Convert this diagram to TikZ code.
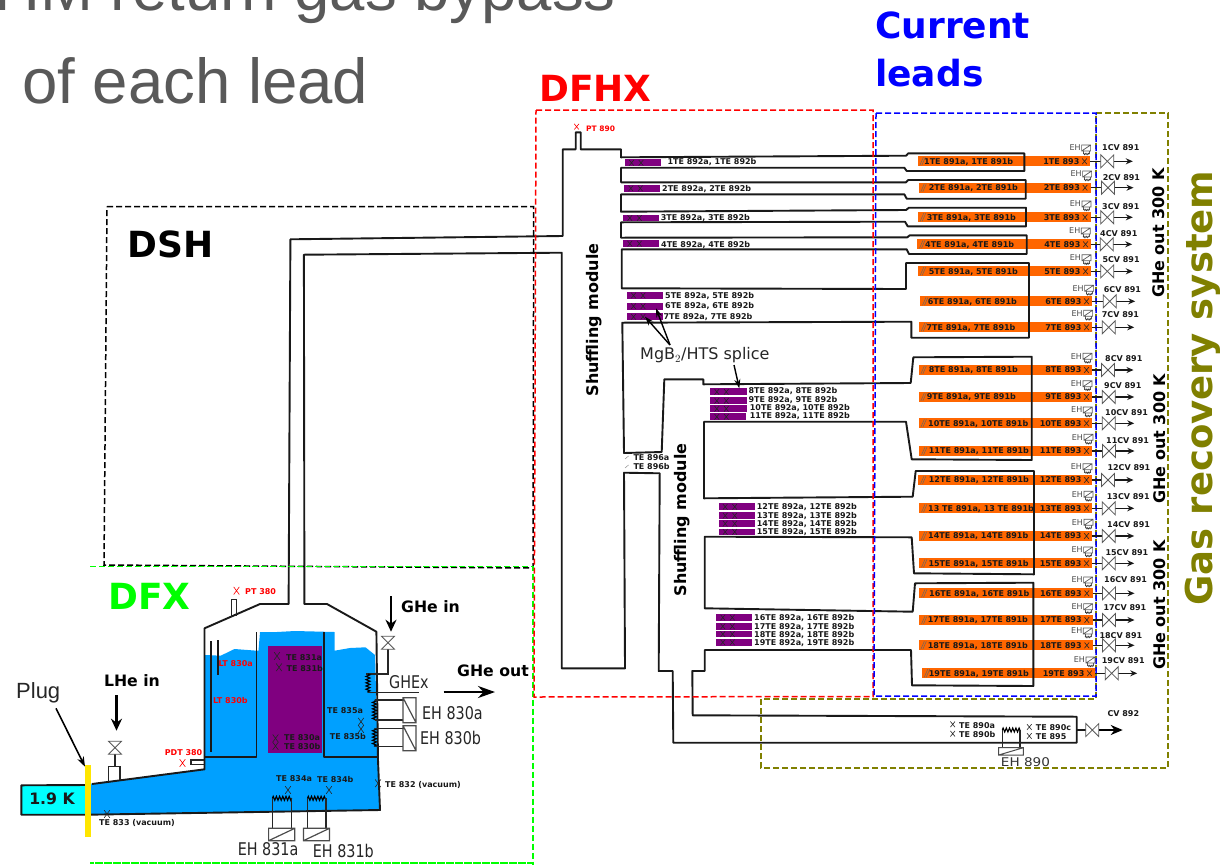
\documentclass[tikz,border=0pt]{standalone}
\usepackage{fontspec}
\setmainfont{DejaVu Sans}
\newfontfamily\arialf{Liberation Sans}
\usetikzlibrary{arrows.meta,shapes.misc,decorations.pathmorphing}
\definecolor{cred}{RGB}{255,0,0}
\definecolor{cgreen}{RGB}{0,255,0}
\definecolor{cblue}{RGB}{0,0,255}
\definecolor{colive}{RGB}{128,128,0}
\definecolor{cliquid}{RGB}{0,160,255}
\definecolor{ccold}{RGB}{0,255,255}
\definecolor{cpurple}{RGB}{128,0,128}
\definecolor{corange}{RGB}{255,102,0}
\definecolor{cgreytext}{RGB}{89,89,89}
\definecolor{cplug}{RGB}{255,230,0}
\tikzset{
  zone/.style={dash pattern=on 6pt off 3pt,line width=1.5pt},
  pipe/.style={line width=1.9pt,line join=round,draw=black!90},
  lab/.style={anchor=west,inner sep=0pt,font=\bfseries\fontsize{8}{8}\selectfont,text height=5.8pt,text depth=0pt,text=black!90},
  redlab/.style={lab,text=cred},
  title/.style={inner sep=0pt,font=\bfseries\fontsize{36}{36}\selectfont},
  bold16/.style={inner sep=0pt,font=\bfseries\fontsize{15.7}{16}\selectfont},
  thin18/.style={inner sep=0pt,anchor=west,font=\fontsize{17.5}{18}\selectfont,xscale=.82,transform shape,text=black!85},
  xm/.style={cross out,draw=black!85,inner sep=0pt,minimum width=4pt,minimum height=5pt,line width=.6pt},
  xr/.style={xm,draw=cred},
  bigx/.style={xm,minimum width=5pt,minimum height=7pt},
  bigxr/.style={xr,minimum width=5pt,minimum height=7pt},
  valve/.style={draw=black!65,fill=white,line width=.8pt,line join=miter},
  fatarrow/.style={line width=2.2pt,-{Stealth[length=12pt,width=11pt]}},
  coil/.style={decorate,decoration={zigzag,amplitude=2pt,segment length=3.2pt},line width=1.1pt},
  thinline/.style={line width=1.3pt,draw=black!85},
  heater/.style={line width=1.2pt,draw=black!70,fill=white},
}
\newcommand\valveh[2]{\filldraw[valve] (#1-6.5,#2-6.5) -- (#1+6.5,#2+6.5) -- (#1+6.5,#2-6.5) -- (#1-6.5,#2+6.5) -- cycle;}
\newcommand\valvev[2]{\filldraw[valve] (#1-6.5,#2-6.5) -- (#1+6.5,#2-6.5) -- (#1-6.5,#2+6.5) -- (#1+6.5,#2+6.5) -- cycle;}
\begin{document}
\begin{tikzpicture}[x=1pt,y=-1pt]
\useasboundingbox (0,0) rectangle (1228,865);
\fill[white] (0,0) rectangle (1228,865);

% slide text
\node[anchor=base east,inner sep=0pt,text=cgreytext,font=\arialf\fontsize{63.5}{64}\selectfont] (hline1) at (616,10) {HM return gas bypass};
\node[anchor=base west,inner sep=0pt,text=cgreytext,font=\arialf\fontsize{63.5}{64}\selectfont] (hline2) at (22,103) {of each lead};

% liquid
\fill[ccold] (21.3,785.3) rectangle (86,814.7);
\fill[cliquid] (88,784) -- (204.5,769.3) -- (204.5,655) -- (220.7,655.7) -- (234.5,649) -- (256.9,650.7) -- (258.5,650.7) -- (260,632) -- (277,632) -- (295,631) -- (334.5,632) -- (334.5,650.7) -- (350,648) -- (365.5,647.3) -- (375,655) -- (378,760) -- (380,810) -- (88,815) -- cycle;
\fill[cpurple] (268,645.7) rectangle (322,752.7);

% orange bars (behind pipes) and rows
\foreach \n/\y/\lf/\rt/\vx/\cx/\cy/\ex/\ey/\tx in {
 1/161.3/917.3/1090/1107.3/1102/148/1069.3/148/924,
 2/187.7/918.3/1090.5/1108/1102.7/177.3/1070.3/174/928.7,
 3/217.3/917.7/1090.5/1107.3/1102/207/1069.7/204/926.7,
 4/244.3/917/1091/1106.7/1100/233.3/1069/231/925,
 5/271.3/917.7/1091/1107.3/1102.3/259.3/1069.7/257.7/928.7,
 6/301.3/920/1092/1109.7/1103.7/290/1072.3/288.3/927.7,
 7/327.3/918.7/1092/1108.7/1101.7/314.7/1071.3/313.3/926.3,
 8/370/918.3/1092/1108/1105/359/1070.7/356.3/928.7,
 9/397/918.3/1092/1108.7/1104/386/1070.7/383.7/926.7,
 10/423.3/918.3/1092/1108.7/1105/412.3/1071/410/928,
 11/451/919/1092/1109/1106/440.3/1071.7/437.3/928.7,
 12/480/918/1092/1108/1107.3/467.3/1070.7/466.7/928.7,
 13/508.3/919/1092/1108.7/1106.7/497/1071.7/494.3/928,
 14/536/918.7/1092/1108.7/1107/524.3/1071.7/522.3/928,
 15/563.3/919/1092/1108.7/1105.3/552.7/1071.3/550/928.3,
 16/593.3/919/1092.3/1109/1104/580/1071.3/580/929,
 17/620/919/1092.3/1109/1103.3/608/1071.3/606.7/927.7,
 18/645.3/918.3/1092.3/1109/1099.3/635.7/1071/631/927.7,
 19/673.3/921.7/1095/1111.7/1101.7/660.3/1073.7/660/928.7}{
  \pgfmathsetmacro\barw{\rt-\lf}
  \node[fill=corange,draw=none,inner sep=0pt,anchor=west,minimum width=\barw pt,minimum height=9.7pt] (o\n) at (\lf,\y) {};
}

% process piping: one continuous outline
\draw[pipe] (92,784) -- (204.5,769.3) -- (204.5,628.3) -- (260,604) -- (288.6,604) -- (290.4,239.3) -- (562.7,236) -- (562.7,149.3) -- (575.7,149.3) -- (575.7,132.3) -- (580.7,132.3) -- (580.7,149.3) -- (621,149.3) -- (621,157.3) -- (906,155.7) -- (908.3,153.3) -- (1024.3,153.3) -- (1024.3,171) -- (906.7,171) -- (904.3,167.7) -- (621,167.7) -- (621,182.3) -- (906,182.3) -- (908.3,180) -- (1025.7,180) -- (1025.7,198.7) -- (906.7,198.7) -- (904.3,194.3) -- (621,194.3) -- (621,211.7) -- (906,210) -- (909,207.7) -- (1026,207.7) -- (1026,226.3) -- (907.7,226.3) -- (905,221.7) -- (621,222.3) -- (621,237.7) -- (907.3,237.3) -- (909.7,235.3) -- (1026.7,235.3) -- (1026.7,254) -- (909,254) -- (906.7,249.3) -- (621.7,249.3) -- (621.7,288.3) -- (906,289) -- (906,263) -- (1029,263) -- (1029,337.7) -- (911.3,337.7) -- (911.3,321.7) -- (622.3,322.7) -- (624,453) -- (661.7,452) -- (664.3,379.3) -- (703.3,379.3) -- (703.3,384.3) -- (910.7,383) -- (913.3,357.3) -- (1031.7,356.7) -- (1031.7,460) -- (911.7,459.3) -- (906,421.7) -- (704,421.7) -- (704,498.3) -- (912.7,496.7) -- (915.7,471) -- (1034,471) -- (1034,574.3) -- (914,573.3) -- (911.7,537.3) -- (704.7,536.7) -- (704.7,608.3) -- (912.7,611.7) -- (915,583.3) -- (1033.3,582.7) -- (1033.3,686) -- (912,685.3) -- (911,650) -- (704.7,650) -- (704.7,671) -- (692.3,671) -- (692.7,715.3) -- (1076.7,716.7) -- (1076.7,742.7) -- (673.3,742.7) -- (672.7,671) -- (658.7,671) -- (659.7,473.3) -- (624,472.7) -- (625,668.3) -- (561.7,668.3) -- (561.7,252.7) -- (303.9,254.7) -- (304.4,604) -- (327,604) -- (376.4,631.7) -- (378,760) -- (380,810) -- (88,814.7) -- (21.3,814.7) -- (21.3,785.3) -- (88,785) ;

% inner walls of the DFX
\draw[pipe] (256.5,632.3) -- (256.5,757.3) -- (204.5,757.3);
\draw[pipe] (324.4,632.3) -- (324.4,757.3) -- (378,757.3);
\draw[pipe,line width=1.3pt] (211,641) -- (211,751.7);
\draw[pipe,line width=1.3pt] (218,640) -- (218,675);

% plug
\fill[cplug] (84.5,765) rectangle (90.5,836.7);

% stubs
\draw[thinline,line width=1.4pt] (231.5,617.3) -- (231.5,599.3) -- (236.6,599.3) -- (236.6,616);
\draw[thinline,line width=1.4pt] (204,760) -- (191,760) -- (191,764.7) -- (204,764.7);
\draw[thinline,line width=1.4pt] (108.5,781.5) -- (108.5,766.7) -- (120,766.7) -- (120,780);
\draw[thinline] (115,754) -- (115,766.7);

% DFX heaters and GHe in
\coordinate (ghvalve) at (388,642.7);
\draw[thinline] (ghvalve) -- (388,674) -- (366,674);
\draw[coil] (368,674) -- (368,692.7);
\draw[thinline] (368,692.7) -- (419.4,692.7);
\draw[coil] (374.5,700) -- (374.5,720);
\draw[thinline] (374.5,700) -- (403,700) (374.5,720) -- (403,720);
\draw[coil] (374.5,728.3) -- (374.5,746.7);
\draw[thinline] (374.5,728.3) -- (403,728.3) (374.5,746.7) -- (403,746.7);
\draw[heater] (403,697.7) rectangle (416,722.7) (403,697.7) -- (416,722.7);
\draw[heater] (403,725.7) rectangle (416,750.7) (403,725.7) -- (416,750.7);
\draw[coil] (272.4,798.3) -- (291.7,798.3);
\draw[thinline] (272.4,798.3) -- (272.4,828.3) (291.7,798.3) -- (291.7,828.3);
\draw[coil] (307.5,798.3) -- (326,798.3);
\draw[thinline] (307.5,798.3) -- (307.5,828.3) (326,798.3) -- (326,828.3);
\draw[heater] (268.6,828.3) rectangle (294.8,840.7) (268.6,840.7) -- (294.8,828.3);
\draw[heater] (303.4,828.3) rectangle (329.5,840.7) (303.4,840.7) -- (329.5,828.3);
\valvev{115}{747.7}
\valvev{388}{642.7}

% DFX arrows
\node[inner sep=0pt,anchor=west,font=\arialf\fontsize{22}{22}\selectfont,text=black!85] (plug) at (16,693) {Plug};
\coordinate (plugtip) at (85,766.7);
\draw[line width=1.6pt,-{Stealth[length=10pt,width=7pt]}] (56,708.3) -- (plugtip);
\node[bold16] (lhe) at (132,680.7) {LHe in};
\coordinate (lhetip) at (116.5,730.7);
\draw[fatarrow] (116.5,695) -- (lhetip);
\node[bold16,anchor=west] (ghein) at (401,606.7) {GHe in};
\coordinate (ghetip) at (391,631.7);
\draw[fatarrow] (391,596) -- (ghetip);
\node[bold16,anchor=west] (gheout) at (457,671) {GHe out};
\coordinate (ghoutend) at (495,692);
\draw[line width=2.6pt,-{Stealth[length=17pt,width=12pt]}] (443.5,692) -- (ghoutend);
\node[bold16,text=black!90] (cold) at (52,798.5) {1.9 K};

% DFX labels
\node[thin18] (ghex) at (389,681.7) {GHEx};
\node[thin18] (eh830a) at (422,712.7) {EH 830a};
\node[thin18] (eh830b) at (420,738.3) {EH 830b};
\node[thin18] (eh831a) at (237.6,849.3) {EH 831a};
\node[thin18] (eh831b) at (312.7,850.7) {EH 831b};
\node[redlab] (pt380) at (245,591.7) {PT 380};
\node[bigxr] (pt380x) at (236.5,590.7) {};
\node[redlab] (pdt380) at (164.6,753) {PDT 380};
\node[bigxr] (pdt380x) at (182.5,763) {};
\node[redlab] (lt830a) at (218.5,663.3) {LT 830a};
\node[redlab] (lt830b) at (213,700.3) {LT 830b};
\node[lab] (te831a) at (286,658) {TE 831a};
\node[bigx] (te831ax) at (277,656) {};
\node[lab] (te831b) at (286.5,668.3) {TE 831b};
\node[bigx] (te831bx) at (279,667.3) {};
\node[lab] (te830a) at (284,738) {TE 830a};
\node[bigx] (te830ax) at (275.5,738.3) {};
\node[lab] (te830b) at (284,747) {TE 830b};
\node[bigx] (te830bx) at (275.5,746) {};
\node[lab] (te835a) at (327,711) {TE 835a};
\node[bigx] (te835ax) at (361,721.7) {};
\node[lab] (te835b) at (329.6,736.7) {TE 835b};
\node[bigx] (te835bx) at (361,729) {};
\node[lab] (te834a) at (276,779) {TE 834a};
\node[bigx] (te834ax) at (288,790) {};
\node[lab] (te834b) at (317,779.7) {TE 834b};
\node[bigx] (te834bx) at (329,790) {};
\node[lab] (te832) at (385,784.3) {TE 832 (vacuum)};
\node[bigx] (te832x) at (378,783.3) {};
\node[lab] (te833) at (99,822.3) {TE 833 (vacuum)};
\node[bigx] (te833x) at (107,814) {};

% zone boxes
\draw[zone,black] (107,206.7) -- (533.7,206.7) -- (533,568) -- (104,565) -- cycle;
\draw[zone,cgreen] (90,566.7) -- (533,566.7) -- (533,865) (533,863) -- (90,863) -- cycle;
\draw[zone,cred] (536,110) -- (873,110) -- (873,696.5) -- (534,697) -- cycle;
\draw[zone,colive] (1096,113) -- (1168,113) -- (1168,768) -- (761,768) -- (761,699) -- (1096,699) -- cycle;
\draw[zone,cblue] (876,113) -- (1096,113) -- (1096,696) -- (874,696) -- cycle;

% zone titles
\node[title,text=black,anchor=west] (dsh) at (127.5,244) {DSH};
\node[title,text=cgreen,anchor=west] (dfx) at (108,596) {DFX};
\node[title,text=cred,anchor=west] (dfhx) at (539,88) {DFHX};
\node[title,text=cblue,anchor=west] (cur) at (875,25) {Current};
\node[title,text=cblue,anchor=west] (lea) at (875,73) {leads};
\node[rotate=90,inner sep=0pt,text=colive,font=\bfseries\fontsize{37}{37}\selectfont] (gas) at (1203,388) {Gas recovery system};
\node[rotate=90,inner sep=0pt,font=\bfseries\fontsize{16}{16}\selectfont] (ghe1) at (1158.5,233) {GHe out 300 K};
\node[rotate=90,inner sep=0pt,font=\bfseries\fontsize{16}{16}\selectfont] (ghe2) at (1159.5,438.7) {GHe out 300 K};
\node[rotate=90,inner sep=0pt,font=\bfseries\fontsize{16}{16}\selectfont] (ghe3) at (1160,605) {GHe out 300 K};
\node[rotate=90,inner sep=0pt,font=\bfseries\fontsize{16}{16}\selectfont] (shuf1) at (594,320) {Shuffling module};
\node[rotate=90,inner sep=0pt,font=\bfseries\fontsize{16}{16}\selectfont] (shuf2) at (682.5,520) {Shuffling module};

% purple splice bars
\foreach \n/\xa/\ya/\xb/\yb/\lx/\ly in {
 1/625/159.3/661/166.3/667.3/162,
 2/624.3/185/660/191.7/662/188.3,
 3/623.3/214.7/659/221.3/660.7/218,
 4/623.3/240.3/659/247/661/244.3,
 5/627/292/663.3/299/665/295.3,
 6/627/302.7/663.3/309.7/665/306,
 7/627/313.3/662.7/320.3/663.3/317,
 8/710.3/388.3/746.7/395.3/748.3/391,
 9/710.3/397.3/746.7/404.3/748.3/399.3,
 10/710.3/405.3/746.7/412.3/749.7/407.7,
 11/710.3/413.3/746.3/420.3/749.7/416,
 12/718.7/503.3/755/510.3/756.7/507,
 13/718.7/512.3/755/519/756.7/515.7,
 14/718.7/520.3/755/527/756.7/523.7,
 15/718.7/528.7/755/535/756.7/531.7,
 16/716.3/614/752.3/621/754/617.7,
 17/716.3/623/752.3/629.7/754/626.3,
 18/716.3/631/752.3/637.3/754/634.3,
 19/716.3/639/752.3/645.7/754/642.7}{
  \fill[cpurple] (\xa,\ya) rectangle (\xb,\yb);
  \node[xm] (sa\n) at (\xa+6.5,\ya/2+\yb/2) {};
  \node[xm] (sb\n) at (\xa+16,\ya/2+\yb/2) {};
  \node[lab] (sl\n) at (\lx,\ly) {\n{}TE 892a, \n{}TE 892b};
}

% PT 890, TE 896
\node[redlab,font=\bfseries\fontsize{7.5}{8}\selectfont] (pt890) at (585.9,128.3) {PT 890};
\node[xr] (pt890x) at (576.6,126.7) {};
\node[lab] (te896a) at (633.3,458) {TE 896a};
\node[lab] (te896b) at (633.3,466.7) {TE 896b};
\draw[black!45,line width=.5pt] (625,459) -- (628.5,456) (625,468) -- (628.5,465);

% splice callout
\node[anchor=west,inner sep=0pt,font=\fontsize{16}{16}\selectfont,text=black!85] (mgb) at (640,355) {MgB$_2$/HTS splice};
\coordinate (ca) at (645,316.7);
\coordinate (cb) at (656,308.3);
\coordinate (cc) at (739.3,388.3);
\draw[line width=1.4pt,-{Stealth[length=9pt,width=6pt]}] (670,345) -- (ca);
\draw[line width=1.4pt,-{Stealth[length=9pt,width=6pt]}] (670,345) -- (cb);
\draw[line width=1.4pt,-{Stealth[length=9pt,width=6pt]}] (734,365) -- (cc);

% current-lead rows
\foreach \n/\y/\lf/\rt/\vx/\cx/\cy/\ex/\ey/\tx in {
 1/161.3/917.3/1090/1107.3/1102/148/1069.3/148/924,
 2/187.7/918.3/1090.5/1108/1102.7/177.3/1070.3/174/928.7,
 3/217.3/917.7/1090.5/1107.3/1102/207/1069.7/204/926.7,
 4/244.3/917/1091/1106.7/1100/233.3/1069/231/925,
 5/271.3/917.7/1091/1107.3/1102.3/259.3/1069.7/257.7/928.7,
 6/301.3/920/1092/1109.7/1103.7/290/1072.3/288.3/927.7,
 7/327.3/918.7/1092/1108.7/1101.7/314.7/1071.3/313.3/926.3,
 8/370/918.3/1092/1108/1105/359/1070.7/356.3/928.7,
 9/397/918.3/1092/1108.7/1104/386/1070.7/383.7/926.7,
 10/423.3/918.3/1092/1108.7/1105/412.3/1071/410/928,
 11/451/919/1092/1109/1106/440.3/1071.7/437.3/928.7,
 12/480/918/1092/1108/1107.3/467.3/1070.7/466.7/928.7,
 13/508.3/919/1092/1108.7/1106.7/497/1071.7/494.3/928,
 14/536/918.7/1092/1108.7/1107/524.3/1071.7/522.3/928,
 15/563.3/919/1092/1108.7/1105.3/552.7/1071.3/550/928.3,
 16/593.3/919/1092.3/1109/1104/580/1071.3/580/929,
 17/620/919/1092.3/1109/1103.3/608/1071.3/606.7/927.7,
 18/645.3/918.3/1092.3/1109/1099.3/635.7/1071/631/927.7,
 19/673.3/921.7/1095/1111.7/1101.7/660.3/1073.7/660/928.7}{
  \draw[black!60,line width=.5pt] (\lf+2.5,\y+4) -- (\lf+6,\y-4) (\lf+4.5,\y+4) -- (\lf+8,\y-4);
  \node[lab] (ll\n) at (\tx,\y) {\ifnum\n=13 13 TE 891a, 13 TE 891b\else\n{}TE 891a, \n{}TE 891b\fi};
  \node[lab,anchor=east] (lr\n) at (\rt-10.5,\y) {\n{}TE 893};
  \node[xm] (lx\n) at (\rt-5.5,\y) {};
  \coordinate (v\n) at (\vx,\y);
  \coordinate (a\n) at (\vx+25.5,\y);
  \draw[line width=1.3pt,black!90] (o\n.east) -- (v\n);
  \draw[line width=1.3pt,black!90,-{Stealth[length=7pt,width=6pt]}] (\vx+6,\y) -- (a\n);
  \valveh{\vx}{\y}
  \node[lab] (cv\n) at (\cx,\cy) {\n{}CV 891};
  \node[lab,font=\fontsize{8}{8}\selectfont,text=black!70] (eh\n) at (\ex,\ey) {EH};
  \draw[line width=.7pt,black!65] (\ex+12.3,\ey-3) rectangle (\ex+21.3,\ey+3) (\ex+12.3,\ey+3) -- (\ex+21.3,\ey-3);
  \draw[line width=.5pt,black!65] (\ex+14,\ey+3) -- (\ex+14,\ey+6) (\ex+20,\ey+3) -- (\ex+20,\ey+6);
  \draw[line width=.5pt,black!80,decorate,decoration={zigzag,amplitude=.8pt,segment length=1.6pt}] (\ex+14,\ey+6) -- (\ex+20,\ey+6);
}

% CV 892 and EH 890
\coordinate (v892) at (1092.3,730);
\coordinate (a892) at (1122.7,730);
\draw[line width=1.4pt,black!90] (1076.7,730) -- (v892);
\draw[line width=2.4pt,-{Stealth[length=12pt,width=10pt]}] (1098.5,730) -- (a892);
\valveh{1092.3}{730}
\node[lab] (cv892) at (1107.3,714) {CV 892};
\node[lab] (te890a) at (959,725.3) {TE 890a};
\node[xm] (te890ax) at (952.7,724.3) {};
\node[lab] (te890b) at (959,734.7) {TE 890b};
\node[xm] (te890bx) at (952.7,733.7) {};
\node[lab] (te890c) at (1035.7,728) {TE 890c};
\node[xm] (te890cx) at (1029.3,727) {};
\node[lab] (te895) at (1035.7,737) {TE 895};
\node[xm] (te895x) at (1029.3,736) {};
\draw[coil] (1002.3,730) -- (1020,730);
\draw[thinline] (1002.3,730) -- (1002.3,747.7) (1020,730) -- (1020,747.7);
\draw[heater,line width=1pt] (998.7,747.7) rectangle (1023.3,755) (998.7,755) -- (1023.3,747.7);
\node[inner sep=0pt,anchor=west,font=\fontsize{12}{12}\selectfont,xscale=1.13,transform shape,text=black!80] (eh890) at (1000.7,762) {EH 890};
\end{tikzpicture}
\end{document}
